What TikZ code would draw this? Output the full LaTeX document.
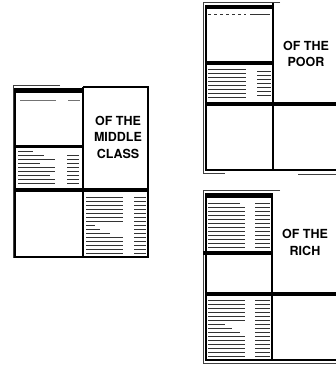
\documentclass[tikz,border=0pt]{standalone}
\usepackage{fontspec}
\setmainfont{TeX Gyre Heros}
\begin{document}
\begin{tikzpicture}[x=1pt,y=-1pt,
  frame/.style={line width=1.3pt},
  outer/.style={line width=0.7pt, black!75},
  tl/.style={line width=0.8pt, black!80},
  lbl/.style={font=\fontsize{12.5}{16.5}\selectfont\bfseries, align=center, inner sep=0pt}]
\useasboundingbox (0,0) rectangle (336,366);

% ---------- MIDDLE CLASS ----------
\draw[outer] (60,85) -- (13,85) -- (13,258);
\draw[frame] (15,88) -- (15,257) -- (148,257) -- (148,87) -- (83,87);
\fill (15,88) rectangle (83,93);
\fill (15,145) rectangle (83,148);
\fill (15,188) rectangle (148,192);
\draw[frame] (83,87) -- (83,257);
\draw[tl, black!55] (20,100) -- (56,100);
\draw[tl, black!55] (68,100) -- (80,100);
\foreach \y/\a/\b in {151/18/33,155/18/44,159/18/55,163/18/40,167/18/55,171/18/55,175/18/50,179/18/55,183/18/55}
  \draw[tl] (\a,\y) -- (\b,\y);
\foreach \y in {155,159,163,167,171,175,179,183}
  \draw[tl] (67,\y) -- (79,\y);
\foreach \y/\a/\b in {197/86/123,201/86/123,205/86/123,209/86/123,213/86/123,217/86/123,221/86/123,225/86/95,229/86/100,233/86/110,237/86/123,241/86/123,245/86/123,249/86/123,253/86/123}
  \draw[tl] (\a,\y) -- (\b,\y);
\foreach \y in {197,201,205,209,213,217,221,225,229,233,237,241,245,249,253}
  \draw[tl] (134,\y) -- (146,\y);
\node[lbl] (mid) at (118,137) {OF THE\\MIDDLE\\CLASS};

% ---------- POOR ----------
\draw[outer] (280,2) -- (203,2) -- (203,173) -- (225,173);
\draw[outer] (298,174) -- (336,174);
\draw[frame] (206,5) -- (206,170) -- (336,170);
\fill (206,5) rectangle (273,9);
\fill (206,61) rectangle (273,65);
\fill (206,102) rectangle (336,106);
\draw[frame] (273,3) -- (273,170);
\draw[tl, dashed] (208,14) -- (246,14);
\draw[tl] (250,14) -- (270,14);
\foreach \y in {69,73,77,81,85,89,93,97}
  \draw[tl] (208,\y) -- (246,\y);
\foreach \y in {71,75,79,83,87,91,95}
  \draw[tl] (257,\y) -- (271,\y);
\node[lbl] (poor) at (306,54) {OF THE\\POOR};

% ---------- RICH ----------
\draw[outer] (280,190) -- (203,190) -- (203,363) -- (336,363);
\draw[frame] (206,193) -- (206,360) -- (336,360);
\fill (206,193) rectangle (272,198);
\fill (203,251) rectangle (272,255);
\fill (206,292) rectangle (336,296);
\draw[line width=2pt] (272,193) -- (272,360);
\foreach \y/\a/\b in {203/208/240,207/208/245,211/208/245,215/208/245,219/208/245,223/208/245,227/208/245,231/208/245,235/208/245,239/208/245,243/208/245,247/208/245}
  \draw[tl] (\a,\y) -- (\b,\y);
\foreach \y in {203,207,211,215,219,223,227,231,235,239,243,247}
  \draw[tl] (255,\y) -- (270,\y);
\foreach \y/\a/\b in {300/208/245,304/208/245,308/208/245,312/208/245,316/208/245,320/208/245,324/208/225,328/208/232,332/208/240,336/208/245,340/208/245,344/208/245,348/208/245,352/208/245,356/208/245}
  \draw[tl] (\a,\y) -- (\b,\y);
\foreach \y in {300,304,308,312,316,320,324,328,332,336,340,344,348,352,356}
  \draw[tl] (255,\y) -- (270,\y);
\node[lbl] (rich) at (305,242.5) {OF THE\\RICH};
\end{tikzpicture}
\end{document}
